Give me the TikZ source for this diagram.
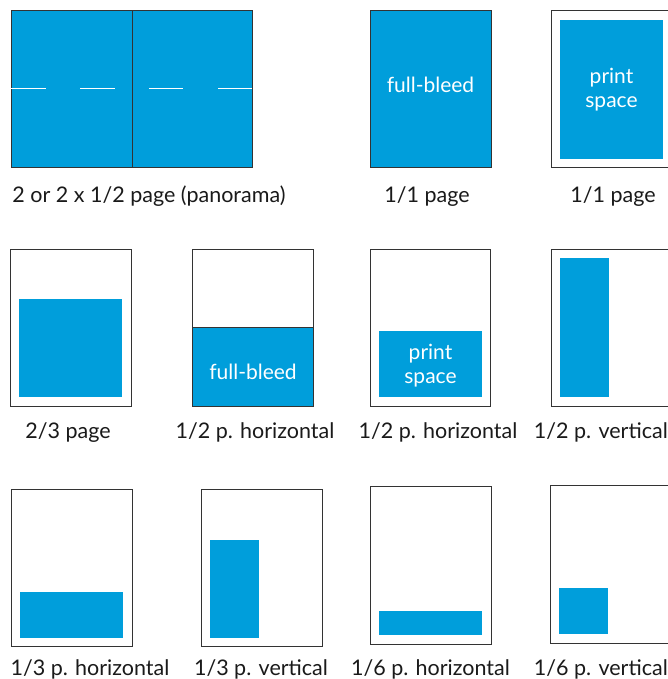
\documentclass[tikz,border=0pt]{standalone}
\usepackage{fontspec}
\setmainfont{Lato}
\definecolor{adblue}{HTML}{009EDB}
\definecolor{frame}{HTML}{333333}
\definecolor{labeltext}{HTML}{1A1A1A}
\tikzset{
  pageframe/.style={draw=frame, line width=0.9pt, fill=white},
  adarea/.style={fill=adblue},
  adbleed/.style={fill=adblue, draw=frame, line width=0.9pt},
  caption/.style={anchor=base, text=labeltext, font=\fontsize{21.5}{24}\selectfont, inner sep=0pt},
  intext/.style={text=white, font=\fontsize{21}{24}\selectfont, align=center, inner sep=0pt},
  foldmark/.style={draw=white, line width=1pt}
}
\begin{document}
\begin{tikzpicture}[x=1pt,y=-1pt]
\useasboundingbox (0,0) rectangle (668,679);
\clip (0,0) rectangle (668,679);
\fill[white] (0,0) rectangle (668,679);

% Row 1: panorama
\draw[adbleed] (11,10) rectangle (132,167);
\draw[adbleed] (132,10) rectangle (252,167);
\coordinate (m1a) at (11,88.3); \coordinate (m1b) at (45.7,88.3);
\coordinate (m2a) at (80,88.3); \coordinate (m2b) at (114.7,88.3);
\coordinate (m3a) at (149,88.3); \coordinate (m3b) at (183.3,88.3);
\coordinate (m4a) at (218,88.3); \coordinate (m4b) at (252,88.3);
\draw[foldmark] (m1a) -- (m1b);
\draw[foldmark] (m2a) -- (m2b);
\draw[foldmark] (m3a) -- (m3b);
\draw[foldmark] (m4a) -- (m4b);
\node[caption] (c1) at (149,202.3) {2 or 2 x 1/2 page (panorama)};

% Row 1: full-bleed 1/1
\draw[adbleed] (370,10) rectangle (491,167);
\node[intext] (t1) at (430.5,85) {full-bleed};
\node[caption] (c2) at (427,202.3) {1/1 page};

% Row 1: print space 1/1
\draw[pageframe] (551.7,10) rectangle (672.7,167.3);
\fill[adarea] (560,20) rectangle (662.7,159);
\node[intext] (t2) at (611.5,90) {print\\space};
\node[caption] (c3) at (613,202.3) {1/1 page};

% Row 2
\draw[pageframe] (10.7,249) rectangle (131.7,406);
\fill[adarea] (19,299) rectangle (122,396.7);
\node[caption] (c4) at (68,438.5) {2/3 page};

\draw[pageframe] (192.7,249) rectangle (313.3,406);
\draw[adbleed] (192.7,327.7) rectangle (313.3,406);
\node[intext] (t3) at (253,371.7) {full-bleed};
\node[caption] (c5) at (255,438.5) {1/2 p. horizontal};

\draw[pageframe] (370.7,249) rectangle (490.7,406);
\fill[adarea] (379,331) rectangle (482,396.7);
\node[intext] (t4) at (430.5,366) {print\\space};
\node[caption] (c6) at (438,438.5) {1/2 p. horizontal};

\draw[pageframe] (551.7,249) rectangle (672.7,406);
\fill[adarea] (560,258) rectangle (609,396.7);
\node[caption, anchor=base east] (c7) at (668,438.5) {1/2 p. vertical};

% Row 3
\draw[pageframe] (11,489.3) rectangle (132,646.3);
\fill[adarea] (20,592) rectangle (123,637.7);
\node[caption] (c8) at (90,675.5) {1/3 p. horizontal};

\draw[pageframe] (201,489.3) rectangle (322,646.3);
\fill[adarea] (210,540) rectangle (259,637.7);
\node[caption] (c9) at (261,675.5) {1/3 p. vertical};

\draw[pageframe] (370,486.7) rectangle (491,644);
\fill[adarea] (379,611) rectangle (482,634.7);
\node[caption] (c10) at (430.5,675.5) {1/6 p. horizontal};

\draw[pageframe] (550,485.3) rectangle (671,643);
\fill[adarea] (558.7,588) rectangle (608,633.7);
\node[caption, anchor=base east] (c11) at (668,675.5) {1/6 p. vertical};
\end{tikzpicture}
\end{document}
